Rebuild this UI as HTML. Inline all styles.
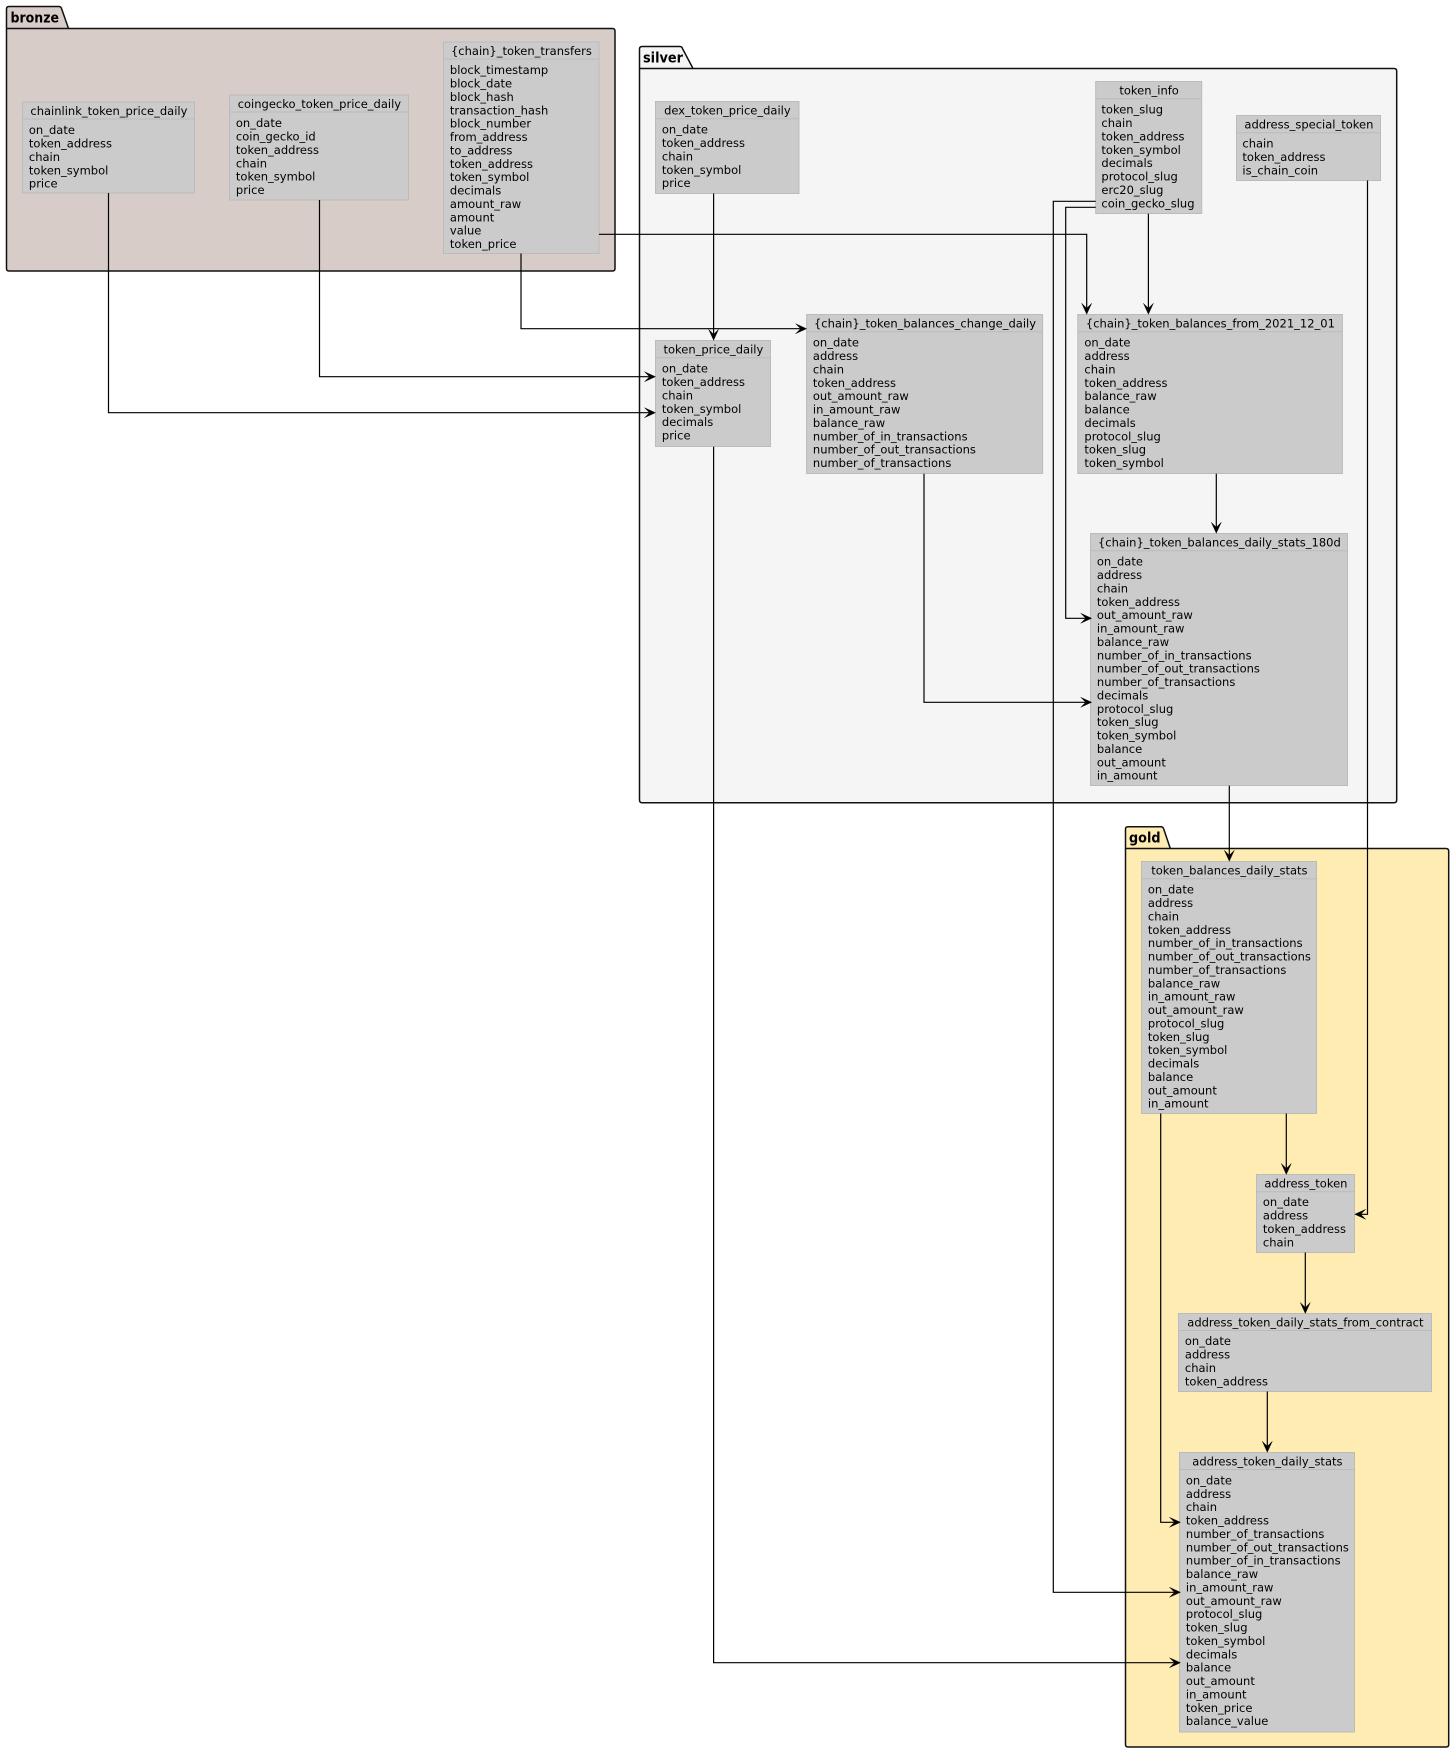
<!DOCTYPE html>
<html><head><meta charset="utf-8"><style>
html,body{margin:0;padding:0;background:#fff}
svg{display:block}
text{font-family:"DejaVu Sans",sans-serif;font-size:11.5px;fill:#000;transform:translate(0.4px,0.5px)}
.t{text-anchor:middle}
.p{font-weight:bold;font-size:13.8px;transform:none}
.b{fill:#CBCBCB;stroke:#BBBBBB;stroke-width:1}
.h{stroke:#BBBBBB;stroke-width:1;fill:none}
.pk{stroke:#111;stroke-width:1.5;stroke-linejoin:round}
.l{fill:none;stroke:#000;stroke-width:1.2}
.a{fill:#000;stroke:#000;stroke-width:.4;stroke-linejoin:miter}
</style></head><body>
<svg xmlns="http://www.w3.org/2000/svg" width="1454" height="1753" viewBox="0 0 1454 1753">
<!-- packages -->
<path class="pk" fill="#D7CCC8" d="M6.5 28.5V9Q6.5 6.5 9 6.5H59Q61 6.5 61.7 9L68.5 28.5H612.5Q615 28.5 615 31V268.5Q615 271 612.5 271H9Q6.5 271 6.5 268.5Z"/>
<path class="pk" fill="none" d="M6.5 28.5H68.5"/>
<text class="p" x="10.5" y="22.7" textLength="48.5" lengthAdjust="spacingAndGlyphs">bronze</text>
<path class="pk" fill="#F5F5F5" d="M639.5 68.5V49Q639.5 46.5 642 46.5H680Q682 46.5 682.7 49L693 68.5H1394Q1396.7 68.5 1396.7 71V800Q1396.7 802.7 1394 802.7H642Q639.5 802.7 639.5 800Z"/>
<path class="pk" fill="none" d="M639.5 68.5H693"/>
<text class="p" x="643" y="62.7" textLength="40" lengthAdjust="spacingAndGlyphs">silver</text>
<path class="pk" fill="#FFECB3" d="M1125.5 848.5V829Q1125.5 826.7 1128 826.7H1161Q1163 826.7 1163.7 829L1170.3 848.5H1446Q1448.7 848.5 1448.7 851V1744.5Q1448.7 1747 1446 1747H1128Q1125.5 1747 1125.5 1744.5Z"/>
<path class="pk" fill="none" d="M1125.5 848.5H1170.3"/>
<text class="p" x="1129" y="842.7" textLength="31.5" lengthAdjust="spacingAndGlyphs">gold</text>

<!-- bronze boxes -->
<rect class="b" x="22.5" y="102" width="172" height="91"/><path class="h" d="M22.5 119H194.5"/>
<text class="t" x="108.5" y="114.6">chainlink_token_price_daily</text>
<text><tspan x="28.5" y="133.7">on_date</tspan><tspan x="28.5" dy="13.37">token_address</tspan><tspan x="28.5" dy="13.37">chain</tspan><tspan x="28.5" dy="13.37">token_symbol</tspan><tspan x="28.5" dy="13.37">price</tspan></text>

<rect class="b" x="229.5" y="95" width="179" height="105"/><path class="h" d="M229.5 112H408.5"/>
<text class="t" x="319" y="107.6">coingecko_token_price_daily</text>
<text><tspan x="235.5" y="126.7">on_date</tspan><tspan x="235.5" dy="13.37">coin_gecko_id</tspan><tspan x="235.5" dy="13.37">token_address</tspan><tspan x="235.5" dy="13.37">chain</tspan><tspan x="235.5" dy="13.37">token_symbol</tspan><tspan x="235.5" dy="13.37">price</tspan></text>

<rect class="b" x="443.5" y="42" width="155.5" height="211.5"/><path class="h" d="M443.5 59H599"/>
<text class="t" x="521" y="54.6">{chain}_token_transfers</text>
<text><tspan x="449.5" y="73.7">block_timestamp</tspan><tspan x="449.5" dy="13.37">block_date</tspan><tspan x="449.5" dy="13.37">block_hash</tspan><tspan x="449.5" dy="13.37">transaction_hash</tspan><tspan x="449.5" dy="13.37">block_number</tspan><tspan x="449.5" dy="13.37">from_address</tspan><tspan x="449.5" dy="13.37">to_address</tspan><tspan x="449.5" dy="13.37">token_address</tspan><tspan x="449.5" dy="13.37">token_symbol</tspan><tspan x="449.5" dy="13.37">decimals</tspan><tspan x="449.5" dy="13.37">amount_raw</tspan><tspan x="449.5" dy="13.37">amount</tspan><tspan x="449.5" dy="13.37">value</tspan><tspan x="449.5" dy="13.37">token_price</tspan></text>

<!-- silver boxes -->
<rect class="b" x="655.5" y="101.5" width="143.5" height="92"/><path class="h" d="M655.5 118.7H799"/>
<text class="t" x="727" y="114">dex_token_price_daily</text>
<text><tspan x="661.5" y="133.2">on_date</tspan><tspan x="661.5" dy="13.37">token_address</tspan><tspan x="661.5" dy="13.37">chain</tspan><tspan x="661.5" dy="13.37">token_symbol</tspan><tspan x="661.5" dy="13.37">price</tspan></text>

<rect class="b" x="1095.7" y="81.5" width="106" height="132"/><path class="h" d="M1095.7 98.7H1201.7"/>
<text class="t" x="1148.7" y="94">token_info</text>
<text><tspan x="1101" y="113.2">token_slug</tspan><tspan x="1101" dy="13.37">chain</tspan><tspan x="1101" dy="13.37">token_address</tspan><tspan x="1101" dy="13.37">token_symbol</tspan><tspan x="1101" dy="13.37">decimals</tspan><tspan x="1101" dy="13.37">protocol_slug</tspan><tspan x="1101" dy="13.37">erc20_slug</tspan><tspan x="1101" dy="13.37">coin_gecko_slug</tspan></text>

<rect class="b" x="1236.5" y="115.5" width="144" height="65"/><path class="h" d="M1236.5 132.7H1380.5"/>
<text class="t" x="1308.5" y="128">address_special_token</text>
<text><tspan x="1242" y="147.2">chain</tspan><tspan x="1242" dy="13.37">token_address</tspan><tspan x="1242" dy="13.37">is_chain_coin</tspan></text>

<rect class="b" x="655.5" y="340.5" width="115" height="106"/><path class="h" d="M655.5 357.7H770.5"/>
<text class="t" x="713" y="353">token_price_daily</text>
<text><tspan x="661.5" y="372.2">on_date</tspan><tspan x="661.5" dy="13.37">token_address</tspan><tspan x="661.5" dy="13.37">chain</tspan><tspan x="661.5" dy="13.37">token_symbol</tspan><tspan x="661.5" dy="13.37">decimals</tspan><tspan x="661.5" dy="13.37">price</tspan></text>

<rect class="b" x="806.6" y="314.5" width="236" height="159"/><path class="h" d="M806.6 331.7H1042.6"/>
<text class="t" x="924.6" y="327">{chain}_token_balances_change_daily</text>
<text><tspan x="812.5" y="346.2">on_date</tspan><tspan x="812.5" dy="13.37">address</tspan><tspan x="812.5" dy="13.37">chain</tspan><tspan x="812.5" dy="13.37">token_address</tspan><tspan x="812.5" dy="13.37">out_amount_raw</tspan><tspan x="812.5" dy="13.37">in_amount_raw</tspan><tspan x="812.5" dy="13.37">balance_raw</tspan><tspan x="812.5" dy="13.37">number_of_in_transactions</tspan><tspan x="812.5" dy="13.37">number_of_out_transactions</tspan><tspan x="812.5" dy="13.37">number_of_transactions</tspan></text>

<rect class="b" x="1077.8" y="314.5" width="264.6" height="159"/><path class="h" d="M1077.8 331.7H1342.4"/>
<text class="t" x="1210" y="327">{chain}_token_balances_from_2021_12_01</text>
<text><tspan x="1084" y="346.2">on_date</tspan><tspan x="1084" dy="13.37">address</tspan><tspan x="1084" dy="13.37">chain</tspan><tspan x="1084" dy="13.37">token_address</tspan><tspan x="1084" dy="13.37">balance_raw</tspan><tspan x="1084" dy="13.37">balance</tspan><tspan x="1084" dy="13.37">decimals</tspan><tspan x="1084" dy="13.37">protocol_slug</tspan><tspan x="1084" dy="13.37">token_slug</tspan><tspan x="1084" dy="13.37">token_symbol</tspan></text>

<rect class="b" x="1090.5" y="533.5" width="257" height="252"/><path class="h" d="M1090.5 550.7H1347.5"/>
<text class="t" x="1219" y="546">{chain}_token_balances_daily_stats_180d</text>
<text><tspan x="1096.5" y="565.2">on_date</tspan><tspan x="1096.5" dy="13.37">address</tspan><tspan x="1096.5" dy="13.37">chain</tspan><tspan x="1096.5" dy="13.37">token_address</tspan><tspan x="1096.5" dy="13.37">out_amount_raw</tspan><tspan x="1096.5" dy="13.37">in_amount_raw</tspan><tspan x="1096.5" dy="13.37">balance_raw</tspan><tspan x="1096.5" dy="13.37">number_of_in_transactions</tspan><tspan x="1096.5" dy="13.37">number_of_out_transactions</tspan><tspan x="1096.5" dy="13.37">number_of_transactions</tspan><tspan x="1096.5" dy="13.37">decimals</tspan><tspan x="1096.5" dy="13.37">protocol_slug</tspan><tspan x="1096.5" dy="13.37">token_slug</tspan><tspan x="1096.5" dy="13.37">token_symbol</tspan><tspan x="1096.5" dy="13.37">balance</tspan><tspan x="1096.5" dy="13.37">out_amount</tspan><tspan x="1096.5" dy="13.37">in_amount</tspan></text>

<!-- gold boxes -->
<rect class="b" x="1141.5" y="861.5" width="175" height="252"/><path class="h" d="M1141.5 878.7H1316.5"/>
<text class="t" x="1229" y="874">token_balances_daily_stats</text>
<text><tspan x="1147.5" y="893.2">on_date</tspan><tspan x="1147.5" dy="13.37">address</tspan><tspan x="1147.5" dy="13.37">chain</tspan><tspan x="1147.5" dy="13.37">token_address</tspan><tspan x="1147.5" dy="13.37">number_of_in_transactions</tspan><tspan x="1147.5" dy="13.37">number_of_out_transactions</tspan><tspan x="1147.5" dy="13.37">number_of_transactions</tspan><tspan x="1147.5" dy="13.37">balance_raw</tspan><tspan x="1147.5" dy="13.37">in_amount_raw</tspan><tspan x="1147.5" dy="13.37">out_amount_raw</tspan><tspan x="1147.5" dy="13.37">protocol_slug</tspan><tspan x="1147.5" dy="13.37">token_slug</tspan><tspan x="1147.5" dy="13.37">token_symbol</tspan><tspan x="1147.5" dy="13.37">decimals</tspan><tspan x="1147.5" dy="13.37">balance</tspan><tspan x="1147.5" dy="13.37">out_amount</tspan><tspan x="1147.5" dy="13.37">in_amount</tspan></text>

<rect class="b" x="1256.5" y="1174.5" width="98" height="78"/><path class="h" d="M1256.5 1191.7H1354.5"/>
<text class="t" x="1305.5" y="1186.8">address_token</text>
<text><tspan x="1262.5" y="1205.7">on_date</tspan><tspan x="1262.5" dy="13.37">address</tspan><tspan x="1262.5" dy="13.37">token_address</tspan><tspan x="1262.5" dy="13.37">chain</tspan></text>

<rect class="b" x="1178.5" y="1313.5" width="253" height="78"/><path class="h" d="M1178.5 1330.5H1431.5"/>
<text class="t" x="1305" y="1325.8">address_token_daily_stats_from_contract</text>
<text><tspan x="1184.5" y="1344.7">on_date</tspan><tspan x="1184.5" dy="13.37">address</tspan><tspan x="1184.5" dy="13.37">chain</tspan><tspan x="1184.5" dy="13.37">token_address</tspan></text>

<rect class="b" x="1179.5" y="1452.5" width="175" height="279.5"/><path class="h" d="M1179.5 1469.5H1354.5"/>
<text class="t" x="1267" y="1464.8">address_token_daily_stats</text>
<text><tspan x="1185.5" y="1484">on_date</tspan><tspan x="1185.5" dy="13.37">address</tspan><tspan x="1185.5" dy="13.37">chain</tspan><tspan x="1185.5" dy="13.37">token_address</tspan><tspan x="1185.5" dy="13.37">number_of_transactions</tspan><tspan x="1185.5" dy="13.37">number_of_out_transactions</tspan><tspan x="1185.5" dy="13.37">number_of_in_transactions</tspan><tspan x="1185.5" dy="13.37">balance_raw</tspan><tspan x="1185.5" dy="13.37">in_amount_raw</tspan><tspan x="1185.5" dy="13.37">out_amount_raw</tspan><tspan x="1185.5" dy="13.37">protocol_slug</tspan><tspan x="1185.5" dy="13.37">token_slug</tspan><tspan x="1185.5" dy="13.37">token_symbol</tspan><tspan x="1185.5" dy="13.37">decimals</tspan><tspan x="1185.5" dy="13.37">balance</tspan><tspan x="1185.5" dy="13.37">out_amount</tspan><tspan x="1185.5" dy="13.37">in_amount</tspan><tspan x="1185.5" dy="13.37">token_price</tspan><tspan x="1185.5" dy="13.37">balance_value</tspan></text>

<!-- connectors -->
<g class="l">
<path d="M108.5 193V412.7H650"/>
<path d="M319.5 200V376.7H650"/>
<path d="M521 253.5V328.7H801"/>
<path d="M599 234.3H1086.7V308"/>
<path d="M713.6 193.5V335"/>
<path d="M1148.4 213.7V308"/>
<path d="M1095.7 201.3H1053.3V1592.3H1175"/>
<path d="M1095.7 207.3H1065.7V618.3H1086"/>
<path d="M924 473.7V702.3H1086"/>
<path d="M1216.3 473.7V528"/>
<path d="M1229.3 785.7V856"/>
<path d="M1367.5 180.5V1214.3H1360"/>
<path d="M1286.3 1113.5V1169"/>
<path d="M1160.7 1113.5V1522.3H1175"/>
<path d="M1305.3 1252.5V1308"/>
<path d="M1267.3 1391.5V1447"/>
<path d="M713.6 446.7V1662.7H1175"/>
</g>
<!-- arrowheads -->
<g class="a">
<path d="M655.5 412.7l-11-5 5 5-5 5z"/>
<path d="M655.5 376.7l-11-5 5 5-5 5z"/>
<path d="M806.6 328.7l-11-5 5 5-5 5z"/>
<path d="M1091.7 618.3l-11-5 5 5-5 5z"/>
<path d="M1091.7 702.3l-11-5 5 5-5 5z"/>
<path d="M1180.5 1522.3l-11-5 5 5-5 5z"/>
<path d="M1180.5 1592.3l-11-5 5 5-5 5z"/>
<path d="M1180.5 1662.7l-11-5 5 5-5 5z"/>
<path d="M1354.7 1214.3l11-5-5 5 5 5z"/>
<path d="M713.6 340.3l-5-11 5 5 5-5z"/>
<path d="M1086.7 314.3l-5-11 5 5 5-5z"/>
<path d="M1148.4 314.3l-5-11 5 5 5-5z"/>
<path d="M1216.3 533.3l-5-11 5 5 5-5z"/>
<path d="M1229.3 861.3l-5-11 5 5 5-5z"/>
<path d="M1286.3 1174.5l-5-11 5 5 5-5z"/>
<path d="M1305.3 1313.5l-5-11 5 5 5-5z"/>
<path d="M1267.3 1452.3l-5-11 5 5 5-5z"/>
</g>
</svg>
</body></html>
